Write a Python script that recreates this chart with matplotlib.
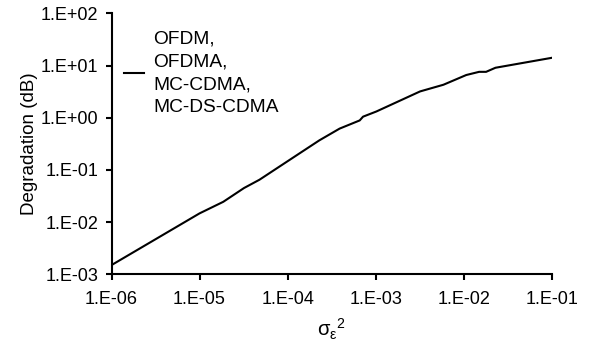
import numpy as np
import matplotlib
matplotlib.use('Agg')
from matplotlib import pyplot as plt

plt.rcParams['font.family'] = ['Liberation Sans', 'DejaVu Sans']
plt.rcParams['mathtext.fontset'] = 'custom'
plt.rcParams['mathtext.rm'] = 'Liberation Sans'
plt.rcParams['mathtext.it'] = 'Liberation Sans'

# values (log-log)
sigma2 = [1e-6, 1e-5, 1.86e-5, 3.2e-5, 4.8e-5, 1.38e-4, 2.3e-4, 3.9e-4,
          6.6e-4, 7.2e-4, 1.02e-3, 3.2e-3, 5.9e-3, 1.07e-2, 1.5e-2, 1.8e-2,
          2.3e-2, 1e-1]
degr = [1.5e-3, 1.47e-2, 2.45e-2, 4.5e-2, 6.5e-2, 0.21, 0.37, 0.62,
        0.89, 1.05, 1.32, 3.2, 4.3, 6.6, 7.6, 7.6, 9.1, 14.1]
label = 'OFDM,\nOFDMA,\nMC-CDMA,\nMC-DS-CDMA'
xticks = [1e-6, 1e-5, 1e-4, 1e-3, 1e-2, 1e-1]
xticklabels = ['1.E-06', '1.E-05', '1.E-04', '1.E-03', '1.E-02', '1.E-01']
yticks = [1e-3, 1e-2, 1e-1, 1e0, 1e1, 1e2]
yticklabels = ['1.E-03', '1.E-02', '1.E-01', '1.E+00', '1.E+01', '1.E+02']

fig = plt.figure(figsize=(5.9, 3.45), dpi=100)
ax = fig.add_axes([0.189, 0.205, 0.746, 0.756])
ax.plot(sigma2, degr, color='black', lw=1.5, label=label)
ax.set_xscale('log')
ax.set_yscale('log')
ax.set_xlim(1e-6, 1e-1)
ax.set_ylim(1e-3, 1e2)
ax.set_xticks(xticks)
ax.set_xticklabels(xticklabels)
ax.set_yticks(yticks)
ax.set_yticklabels(yticklabels)
ax.minorticks_off()
ax.tick_params(direction='out', length=4.3, width=1.5, labelsize=13, color='black')
ax.tick_params(axis='x', pad=8)
ax.tick_params(axis='y', pad=5)
for s in ['top', 'right']:
    ax.spines[s].set_visible(False)
for s in ['left', 'bottom']:
    ax.spines[s].set_linewidth(1.5)

ax.set_ylabel('Degradation (dB)', fontsize=13.5, labelpad=2)
ax.set_xlabel(r'$\sigma_{\varepsilon}{}^{2}$', fontsize=14.5, labelpad=6)

leg = ax.legend(loc='upper left', bbox_to_anchor=(-0.01, 1.0), frameon=False,
                fontsize=13.8, handlelength=1.0, handletextpad=0.5, labelspacing=0.1)
for t in leg.get_texts():
    t.set_linespacing(1.45)

fig.savefig('out.png', dpi=100)
